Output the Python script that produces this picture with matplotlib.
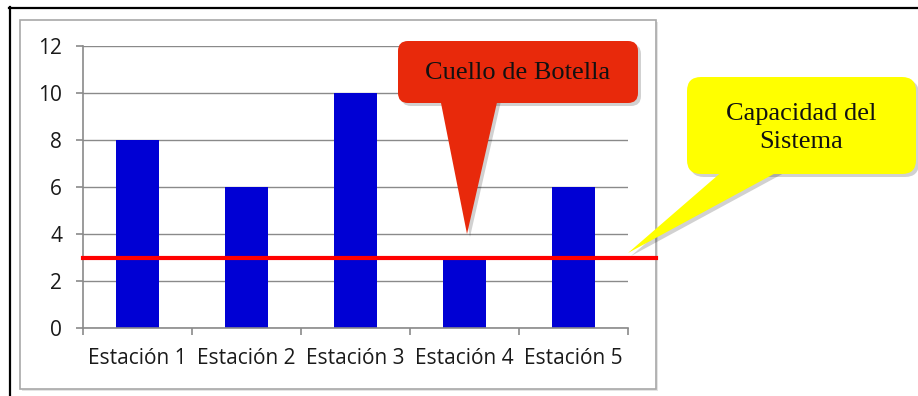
import matplotlib.pyplot as plt
from matplotlib.patches import FancyBboxPatch, Polygon, Rectangle

# Data
estaciones = ['Estación 1', 'Estación 2', 'Estación 3', 'Estación 4', 'Estación 5']
produccion = [8, 6, 10, 3, 6]
capacidad = 3
y_ticks = [0, 2, 4, 6, 8, 10, 12]

W, H = 918, 396
fig = plt.figure(figsize=(W / 100, H / 100), dpi=100)


def pixel_axes(z):
    # full-figure axes working in pixel coordinates (y down)
    a = fig.add_axes([0, 0, 1, 1], zorder=z)
    a.set_xlim(0, W)
    a.set_ylim(H, 0)
    a.axis('off')
    a.patch.set_alpha(0)
    return a


# background: outer black frame and gray chart frame
bg = pixel_axes(0)
bg.plot([9, 918], [7.5, 7.5], color='black', lw=1.6)
bg.plot([10, 10], [7, 396], color='black', lw=1.6)
bg.add_patch(Rectangle((22, 22), 636, 369, facecolor='#e4e4e4', edgecolor='none'))
bg.add_patch(Rectangle((20, 20), 636, 369, facecolor='white', edgecolor='#a8a8a8', lw=1.2))

# plot area
left, right, top, bottom = 83, 628, 46, 328
ax = fig.add_axes([left / W, 1 - bottom / H, (right - left) / W, (bottom - top) / H], zorder=1)
ax.patch.set_alpha(0)

x = range(len(estaciones))
ax.bar(x, produccion, width=0.4, color='#0000d4', zorder=2)
ax.axhline(capacidad, xmin=0, xmax=(656 - left) / (right - left), color='#ff0000', lw=3,
           clip_on=False, zorder=3)

ax.set_xlim(-0.5, len(estaciones) - 0.5)
ax.set_ylim(0, 12)
ax.set_yticks(y_ticks)
ax.yaxis.grid(True, color='#8a8a8a', lw=1)
ax.set_axisbelow(True)

for s in ['top', 'right']:
    ax.spines[s].set_visible(False)
for s in ['left', 'bottom']:
    ax.spines[s].set_color('#8a8a8a')
    ax.spines[s].set_linewidth(1.2)

tick_font = dict(family=['Open Sans', 'DejaVu Sans'], size=15, color='#1a1a1a')
ax.set_xticks(list(x))
ax.set_xticklabels(estaciones, **tick_font)
ax.set_xticks([i - 0.5 for i in range(len(estaciones) + 1)], minor=True)
ax.tick_params(axis='x', which='major', length=0, pad=14.5)
ax.tick_params(axis='x', which='minor', length=5, color='#8a8a8a', width=1.2, direction='out')
ax.set_yticklabels([str(v) for v in y_ticks], **tick_font)
ax.tick_params(axis='y', length=5, color='#8a8a8a', width=1.2, pad=10)

# callouts
ov = pixel_axes(2)


def callout(box, tip, base, color, radius, text, text_xy):
    x0, y0, x1, y1 = box
    for dx, fc, al, z in [(3, 'black', 0.18, 1), (0, color, 1, 2)]:
        ov.add_patch(Polygon([(base[0] + dx, y1 - 5 + dx), (base[1] + dx, y1 - 5 + dx),
                              (tip[0] + dx, tip[1] + dx)],
                             closed=True, facecolor=fc, alpha=al, edgecolor='none', zorder=z))
        ov.add_patch(FancyBboxPatch((x0 + dx, y0 + dx), x1 - x0, y1 - y0,
                                    boxstyle='round,pad=0,rounding_size=%d' % radius,
                                    facecolor=fc, alpha=al, edgecolor='none', zorder=z))
    ov.text(text_xy[0], text_xy[1], text, ha='center', va='center',
            family=['Liberation Serif', 'DejaVu Serif'], size=19, color='#111111',
            linespacing=1.35, zorder=3)


callout((398, 41, 638, 103), (467, 234), (440, 498), '#e8290b', 10,
        'Cuello de Botella', (518, 73))
callout((687, 77, 916, 174), (628, 253), (725, 783), '#ffff00', 14,
        'Capacidad del\nSistema', (801, 128))

fig.savefig('out.png', dpi=100)
